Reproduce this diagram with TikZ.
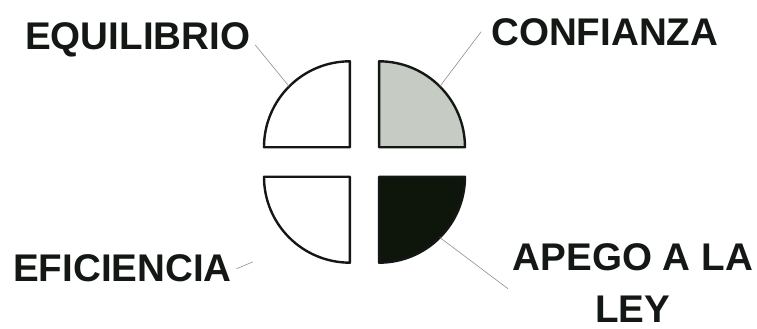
\documentclass[tikz,border=0pt]{standalone}
\usepackage{fontspec}
\setmainfont{Liberation Sans}
\usepackage{tikz}
\usetikzlibrary{positioning}
\definecolor{QuadLine}{RGB}{20,24,20}
\definecolor{QuadGray}{RGB}{198,203,196}
\definecolor{QuadDark}{RGB}{14,22,12}
\definecolor{LeadGray}{RGB}{140,144,140}

\begin{document}
\begin{tikzpicture}[
    quad/.style={draw=QuadLine, line width=1.8pt, line join=round},
    lbl/.style={font=\fontsize{29}{39}\selectfont\bfseries, text=QuadLine, inner sep=0.12cm, align=center},
    lead/.style={draw=LeadGray, line width=0.45pt}
  ]
    \useasboundingbox (-9.63,-4.41) rectangle (10.37,4.28);
    % four quarter discs round the centre
    \foreach \sx/\sy/\a/\col in {-1/1/90/white, 1/1/0/QuadGray, -1/-1/180/white, 1/-1/270/QuadDark} {
      \draw[quad, fill=\col] (\sx*0.385,\sy*0.39) -- ++(\a:2.27) arc[start angle=\a, delta angle=90, radius=2.27] -- cycle;
    }
    \coordinate (eqpt) at ([shift={(-0.385,0.39)}]135:2.27);
    \coordinate (cfpt) at ([shift={(0.385,0.39)}]45:2.27);
    \coordinate (appt) at ([shift={(0.385,-0.39)}]-45:2.27);
    \coordinate (eftip) at (-2.95,-2.64);
    \node[lbl, anchor=base west] (eq) at (-9.09,2.96) {EQUILIBRIO};
    \node[lbl, anchor=base west] (cf) at (3.22,3.09) {CONFIANZA};
    \node[lbl, anchor=base west] (ef) at (-9.41,-3.17) {EFICIENCIA};
    \node[lbl, anchor=north] (ap) at (7.09,-2.02) {APEGO A LA\\LEY};
    \draw[lead] ([yshift=-0.12cm]eq.east) -- (eqpt);
    \draw[lead] ([xshift=-0.14cm]cf.west) -- (cfpt);
    \draw[lead] (ef.east) -- (eftip);
    \draw[lead] ([yshift=-0.16cm]ap.west) -- (appt);
  \end{tikzpicture}
\end{document}
